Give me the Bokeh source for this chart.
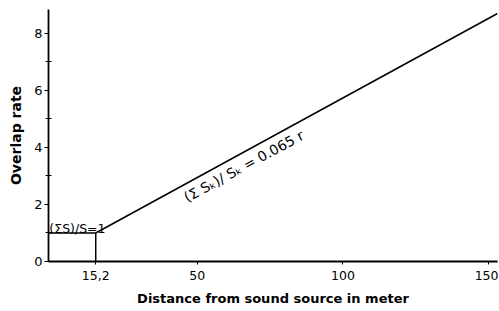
from bokeh.plotting import figure
from bokeh.models import FixedTicker, Range1d
from bokeh.core.properties import value
from bokeh.embed import file_html
from bokeh.resources import INLINE

# data
distance_line = [15.2, 153.0]
rate_line = [1.0, 8.7]
distance_box = [-1.0, 15.2, 15.2]
rate_box = [1.0, 1.0, 0.0]
x_ticks = [15.2, 50, 100, 150]
x_tick_labels = ["15,2", "50", "100", "150"]
y_ticks = [0, 2, 4, 6, 8]
y_minor = [1, 3, 5, 7]
label_box = "(ΣS)/S=1"
label_line = "(Σ Sₖ)/ Sₖ = 0.065 r"

FONT = "DejaVu Sans"

p = figure(width=498, height=310, output_backend="svg", toolbar_location=None,
           x_range=Range1d(-1, 153), y_range=Range1d(0, 8.84),
           min_border_left=48, min_border_right=1, min_border_top=9, min_border_bottom=49)
p.outline_line_color = None
p.xgrid.visible = False
p.ygrid.visible = False
p.background_fill_color = "white"

p.line(distance_line, rate_line, line_color="black", line_width=1.5)
p.line(distance_box, rate_box, line_color="black", line_width=1.5)

p.text(x=[distance_box[0] + 0.3], y=[1.17], text=[label_box], text_font=value(FONT),
       text_font_size="12.5px", text_align="left", text_baseline="alphabetic", text_color="black")
p.text(x=[45.8], y=[2.22], text=[label_line], text_font=value(FONT),
       text_font_size="14px", text_align="left", text_baseline="alphabetic",
       angle=0.499, text_color="black")

xa = p.xaxis[0]
xa.ticker = FixedTicker(ticks=x_ticks, minor_ticks=[])
xa.major_label_overrides = {t: l for t, l in zip(x_ticks, x_tick_labels)}
xa.axis_label = "Distance from sound source in meter"
xa.axis_label_text_font = FONT
xa.axis_label_text_font_style = "bold"
xa.axis_label_text_font_size = "13px"
xa.axis_label_standoff = 8
xa.major_label_text_font = FONT
xa.major_label_text_font_size = "12.5px"
xa.major_label_standoff = 6
xa.major_tick_in = 0
xa.major_tick_out = 3
xa.minor_tick_in = 0
xa.minor_tick_out = 0
xa.axis_line_width = 1.8

ya = p.yaxis[0]
ya.ticker = FixedTicker(ticks=y_ticks, minor_ticks=y_minor)
ya.axis_label = "Overlap rate"
ya.axis_label_text_font = FONT
ya.axis_label_text_font_style = "bold"
ya.axis_label_text_font_size = "14px"
ya.axis_label_standoff = 7
ya.major_label_text_font = FONT
ya.major_label_text_font_size = "13px"
ya.major_label_standoff = 2
ya.major_tick_in = 0
ya.major_tick_out = 4
ya.minor_tick_in = 3
ya.minor_tick_out = 3
ya.axis_line_width = 1.8

for a in (xa, ya):
    a.axis_label_text_color = "black"
    a.major_label_text_color = "black"
    a.axis_line_color = "black"
    a.major_tick_line_color = "black"
    a.minor_tick_line_color = "black"

open("out.html", "w").write(file_html(p, INLINE))
